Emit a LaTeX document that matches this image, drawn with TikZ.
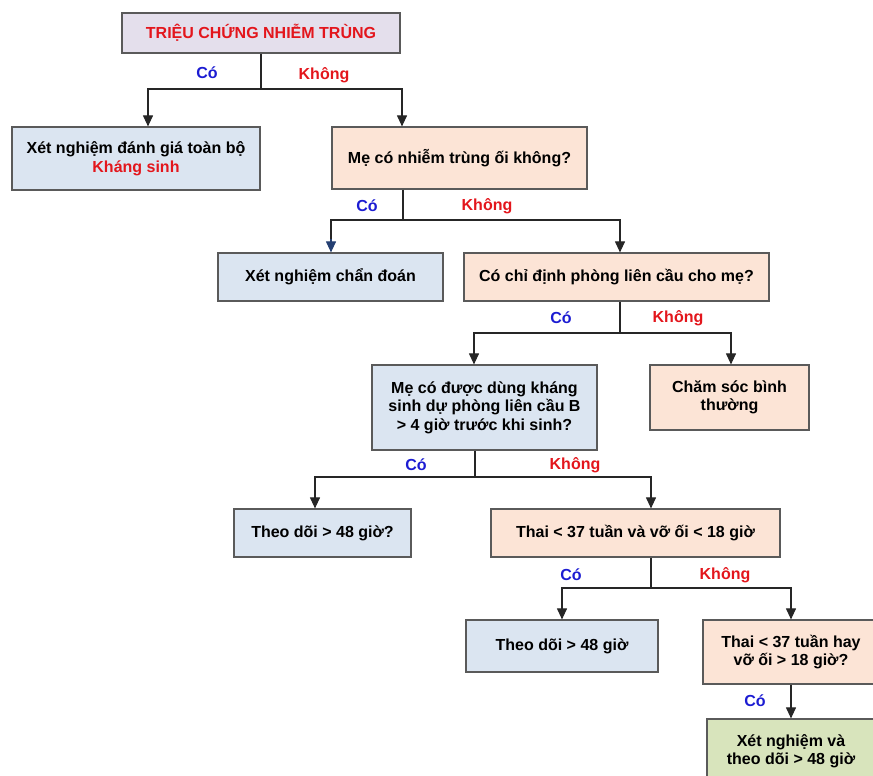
\documentclass[tikz,border=0pt]{standalone}
\usepackage{fontspec}
\setmainfont{Liberation Sans}
\usetikzlibrary{arrows.meta}
\definecolor{boxblue}{HTML}{DBE5F1}
\definecolor{boxpeach}{HTML}{FCE4D6}
\definecolor{boxlila}{HTML}{E4DFEC}
\definecolor{boxgreen}{HTML}{D8E4BC}
\definecolor{rimgray}{HTML}{5A5A5A}
\definecolor{yescol}{HTML}{1C1CD2}
\definecolor{nocol}{HTML}{E3161C}
\definecolor{navyline}{HTML}{243F72}

\begin{document}
\begin{tikzpicture}[x=1pt,y=-1pt,
    box/.style={draw=rimgray, line width=1.2pt, align=center, inner sep=2pt,
        font=\bfseries\fontsize{16}{18.5}\selectfont},
    bluebox/.style={box, fill=boxblue},
    peachbox/.style={box, fill=boxpeach},
    conn/.style={line width=1.1pt, draw=black!85},
    arr/.style={conn, -{Triangle[length=11pt,width=10pt]}},
    yes/.style={text=yescol, font=\bfseries\fontsize{16}{18}\selectfont},
    no/.style={text=nocol, font=\bfseries\fontsize{16}{18}\selectfont}]
    \useasboundingbox (0,0) rectangle (873,776);
    \clip (0,0) rectangle (873,776);
    % boxes
    \node[box, fill=boxlila, minimum width=278pt, minimum height=40pt, text=nocol] (top) at (261,33) {TRIỆU CHỨNG NHIỄM TRÙNG};
    \node[bluebox, minimum width=248pt, minimum height=63pt] (xndg) at (136,158.5) {Xét nghiệm đánh giá toàn bộ\\\textcolor{nocol}{Kháng sinh}};
    \node[peachbox, minimum width=255pt, minimum height=62pt] (meNT) at (459.5,158) {Mẹ có nhiễm trùng ối không?};
    \node[bluebox, minimum width=225pt, minimum height=48pt] (xncd) at (330.5,277) {Xét nghiệm chẩn đoán};
    \node[peachbox, minimum width=305pt, minimum height=48pt] (chidinh) at (616.5,277) {Có chỉ định phòng liên cầu cho mẹ?};
    \node[bluebox, minimum width=225pt, minimum height=85pt] (meKS) at (484.5,407.5) {Mẹ có được dùng kháng\\sinh dự phòng liên cầu B\\> 4 giờ trước khi sinh?};
    \node[peachbox, minimum width=159pt, minimum height=65pt] (chamsoc) at (729.5,397.5) {Chăm sóc bình\\thường};
    \node[bluebox, minimum width=177pt, minimum height=48pt] (theodoiA) at (322.5,533) {Theo dõi > 48 giờ?};
    \node[peachbox, minimum width=289pt, minimum height=48pt] (thaiA) at (635.5,533) {Thai < 37 tuần và vỡ ối < 18 giờ};
    \node[bluebox, minimum width=192pt, minimum height=52pt] (theodoiB) at (562,646) {Theo dõi > 48 giờ};
    \node[peachbox, minimum width=176pt, minimum height=64pt] (thaiB) at (791,652) {Thai < 37 tuần hay\\vỡ ối > 18 giờ?};
    \node[box, fill=boxgreen, minimum width=168pt, minimum height=64pt] (xnTD) at (791,751) {Xét nghiệm và\\theo dõi > 48 giờ};
    % branch points
    \coordinate (j1) at (261,89);
    \coordinate (j2) at (403,220);
    \coordinate (j3) at (620,333);
    \coordinate (j4) at (475,477);
    \coordinate (j5) at (651,588);
    % connectors
    \draw[conn] (top.south) -- (j1);
    \draw[arr] (j1) -| (xndg.north -| 148,0);
    \draw[arr] (j1) -| (meNT.north -| 402,0);
    \draw[conn] (meNT.south -| j2) -- (j2);
    \draw[conn] (j2) -| (331,240);
    \draw[arr, draw=navyline] (331,239) -- (xncd.north -| 331,0);
    \draw[arr] (j2) -| (chidinh.north -| 620,0);
    \draw[conn] (chidinh.south -| j3) -- (j3);
    \draw[arr] (j3) -| (meKS.north -| 474,0);
    \draw[arr] (j3) -| (chamsoc.north -| 731,0);
    \draw[conn] (meKS.south -| j4) -- (j4);
    \draw[arr] (j4) -| (theodoiA.north -| 315,0);
    \draw[arr] (j4) -| (thaiA.north -| 651,0);
    \draw[conn] (thaiA.south -| j5) -- (j5);
    \draw[arr] (j5) -| (theodoiB.north -| 562,0);
    \draw[arr] (j5) -| (thaiB.north -| 791,0);
    \draw[arr] (thaiB.south) -- (xnTD.north);
    % labels
    \node[yes] (co1) at (207,73) {Có};
    \node[no] (kh1) at (324,75) {Không};
    \node[yes] (co2) at (367,206) {Có};
    \node[no] (kh2) at (487,206) {Không};
    \node[yes] (co3) at (561,318) {Có};
    \node[no] (kh3) at (678,318) {Không};
    \node[yes] (co4) at (416,465) {Có};
    \node[no] (kh4) at (575,465) {Không};
    \node[yes] (co5) at (571,575) {Có};
    \node[no] (kh5) at (725,575) {Không};
    \node[yes] (co6) at (755,701) {Có};
\end{tikzpicture}
\end{document}
